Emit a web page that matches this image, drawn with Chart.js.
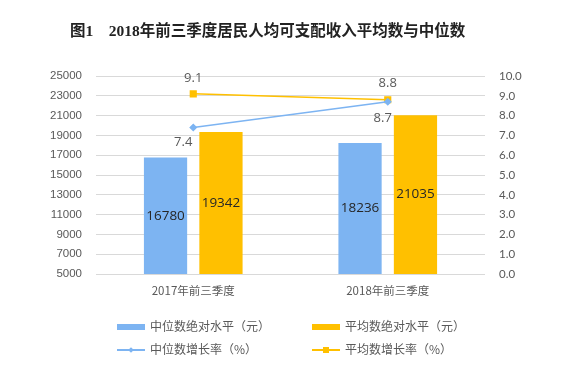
<!DOCTYPE html>
<html><head><meta charset="utf-8">
<script src="https://cdn.jsdelivr.net/npm/chart.js@4.4.1/dist/chart.umd.min.js"></script>
<style>
html,body{margin:0;padding:0;background:#fff;}
#wrap{position:relative;width:580px;height:374px;overflow:hidden;}
#title{position:absolute;left:70px;top:18px;font:bold 15.5px "Liberation Serif","Noto Sans CJK SC",serif;color:#222;white-space:pre;}
.lg{position:absolute;font:12px "Noto Sans CJK SC",sans-serif;color:#595959;white-space:nowrap;line-height:16px;}
.sw{position:absolute;}
</style></head>
<body><div id="wrap">
<canvas id="c" width="580" height="374"></canvas>
<div id="title">图1　2018年前三季度居民人均可支配收入平均数与中位数</div>
<div id="legend"></div>
</div>
<script>
const categories = ["2017年前三季度", "2018年前三季度"];
const medianLevel = [16780, 18236];
const meanLevel = [19342, 21035];
const medianGrowth = [7.4, 8.7];
const meanGrowth = [9.1, 8.8];
const seriesNames = ["中位数绝对水平（元）", "平均数绝对水平（元）", "中位数增长率（%）", "平均数增长率（%）"];

const BLUE = "#7DB4F2", ORANGE = "#FFC000", TXT = "#595959";

// legend (HTML)
const lg = document.getElementById('legend');
function addLegend(x, y, name, kind, color){
  const sw = document.createElement('div'); sw.className='sw';
  if(kind==='bar'){ sw.style.cssText=`left:${x}px;top:${y-3}px;width:28px;height:6px;background:${color}`; lg.appendChild(sw);}
  else {
    sw.style.cssText=`left:${x}px;top:${y-1}px;width:28px;height:2px;background:${color}`; lg.appendChild(sw);
    const m=document.createElement('div'); m.className='sw';
    if(kind==='diamond') m.style.cssText=`left:${x+12}px;top:${y-2}px;width:4px;height:4px;background:${color};transform:rotate(45deg)`;
    else m.style.cssText=`left:${x+11}px;top:${y-3}px;width:6px;height:6px;background:${color}`;
    lg.appendChild(m);
  }
  const t=document.createElement('div'); t.className='lg'; t.textContent=name;
  t.style.left=(x+33)+'px'; t.style.top=(y-9)+'px'; lg.appendChild(t);
}
addLegend(117,327,seriesNames[0],'bar',BLUE);
addLegend(312,327,seriesNames[1],'bar',ORANGE);
addLegend(117,350,seriesNames[2],'diamond',BLUE);
addLegend(312,350,seriesNames[3],'square',ORANGE);

const labelPlugin = {
  id:'vals',
  afterDatasetsDraw(chart){
    const ctx = chart.ctx;
    const bottom = chart.chartArea.bottom;
    ctx.save();
    chart.data.datasets.forEach((ds,i)=>{
      const meta = chart.getDatasetMeta(i);
      meta.data.forEach((el,j)=>{
        const v = ds.data[j];
        if(ds.type==='bar'){
          ctx.font = '13.5px "Open Sans", sans-serif';
          ctx.fillStyle = '#262626';
          ctx.textAlign='center'; ctx.textBaseline='middle';
          const base = Math.min(el.base, bottom);
          ctx.fillText(String(v), el.x, (el.y+base)/2);
        } else {
          ctx.font = '13px "Open Sans", sans-serif';
          ctx.fillStyle = TXT;
          ctx.textAlign='center'; ctx.textBaseline='middle';
          const off = ds.labelOffsets[j];
          ctx.fillText(v.toFixed(1), el.x+off[0], el.y+off[1]);
        }
      });
    });
    ctx.restore();
  }
};

new Chart(document.getElementById('c'), {
  data:{
    labels: categories,
    datasets:[
      {type:'line', label:seriesNames[2], data:medianGrowth, yAxisID:'y1', borderColor:BLUE, backgroundColor:BLUE, borderWidth:1.5, pointStyle:'rectRot', pointRadius:3, order:0, labelOffsets:[[-10,15],[-5,17]]},
      {type:'line', label:seriesNames[3], data:meanGrowth, yAxisID:'y1', borderColor:ORANGE, backgroundColor:ORANGE, borderWidth:1.5, pointStyle:'rect', pointRadius:4, order:0, labelOffsets:[[0,-16],[0,-16]]},
      {type:'bar', label:seriesNames[0], data:medianLevel, yAxisID:'y', backgroundColor:BLUE, order:1, barPercentage:0.78, categoryPercentage:0.57},
      {type:'bar', label:seriesNames[1], data:meanLevel, yAxisID:'y', backgroundColor:ORANGE, order:1, barPercentage:0.78, categoryPercentage:0.57}
    ]
  },
  options:{
    responsive:false, animation:false,
    layout:{padding:{top:76,left:0,right:0,bottom:70}},
    plugins:{legend:{display:false}, title:{display:false}, tooltip:{enabled:false}},
    scales:{
      x:{
        grid:{display:false, drawTicks:false}, border:{display:false},
        ticks:{padding:10, color:TXT, font:{size:11.5, family:'"Noto Sans CJK SC", sans-serif'}},
        afterFit(s){ s.height = 30; }
      },
      y:{
        position:'left', min:5000, max:25000,
        ticks:{stepSize:2000, padding:14, color:TXT, font:{size:11.5, family:'"Liberation Sans", sans-serif'}, callback:v=>String(v)},
        grid:{color:'#D9D9D9', drawTicks:false}, border:{display:false},
        afterFit(s){ s.width = 96; }
      },
      y1:{
        position:'right', min:0, max:10,
        ticks:{stepSize:1, padding:14, color:TXT, font:{size:11.5, family:'Lato, sans-serif'}, callback:v=>v.toFixed(1)},
        grid:{display:false, drawTicks:false}, border:{display:false},
        afterFit(s){ s.width = 95; }
      }
    }
  },
  plugins:[labelPlugin]
});
</script>
</body></html>
